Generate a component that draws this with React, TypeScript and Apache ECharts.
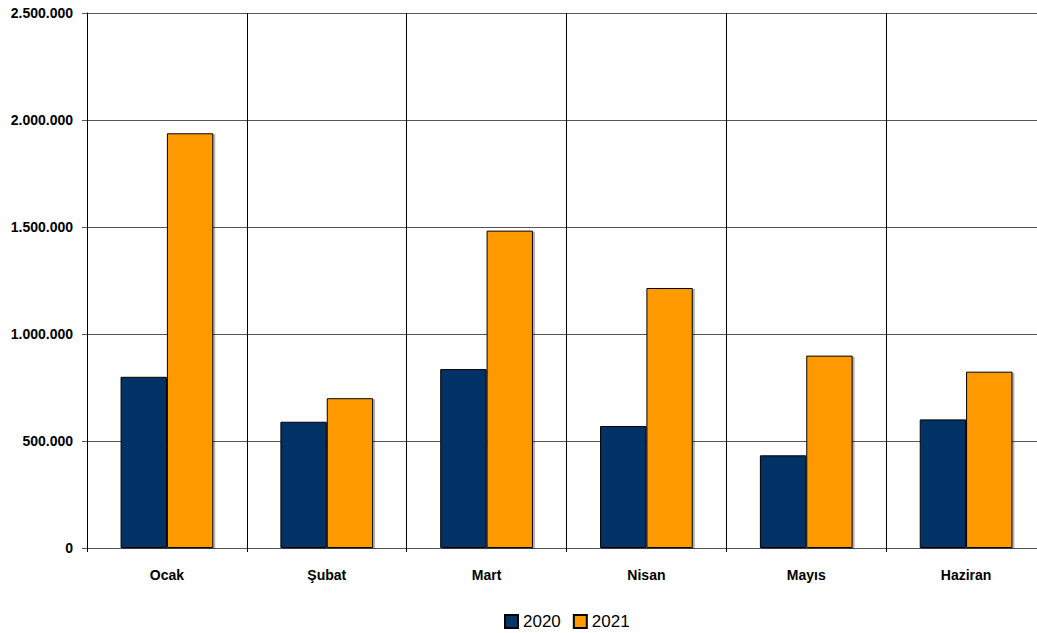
import React, { useEffect, useRef } from "react";
import * as echarts from "echarts";

const categories = ["Ocak", "Şubat", "Mart", "Nisan", "Mayıs", "Haziran"];
const seriesNames = ["2020", "2021"];
const values2020 = [800000, 590000, 836000, 570000, 433000, 601000];
const values2021 = [1938000, 700000, 1483000, 1215000, 899000, 824000];
const seriesColors = ["#003366", "#FF9900"];

const fmt = (v: number) => {
  if (v === 0) return "0";
  return String(Math.round(v)).replace(/\B(?=(\d{3})+(?!\d))/g, ".");
};

export default function App() {
  const ref = useRef<HTMLDivElement>(null);
  useEffect(() => {
    document.body.style.margin = "0";
    if (!ref.current) return;
    const chart = echarts.init(ref.current, null, { renderer: "svg" });
    const font = "'Liberation Sans', Arial, sans-serif";
    const data = [values2020, values2021];
    chart.setOption({
      animation: false,
      backgroundColor: "#ffffff",
      textStyle: { fontFamily: font },
      grid: { left: 87, top: 13, width: 959, height: 535, containLabel: false },
      legend: {
        left: 499,
        top: 608,
        itemWidth: 13,
        itemHeight: 13,
        itemGap: 12,
        icon: "rect",
        textStyle: { fontFamily: font, fontSize: 17, color: "#000" },
        data: seriesNames,
      },
      xAxis: {
        type: "category",
        data: categories,
        boundaryGap: true,
        axisLine: { show: true, lineStyle: { color: "#555", width: 1 } },
        axisTick: { show: true, length: 4, inside: false, alignWithLabel: false, lineStyle: { color: "#000" } },
        axisLabel: { fontFamily: font, fontSize: 14, fontWeight: "bold", color: "#000", margin: 20 },
        splitLine: { show: true, interval: 0, lineStyle: { color: "#000", width: 1 } },
      },
      yAxis: {
        type: "value",
        min: 0,
        max: 2500000,
        interval: 500000,
        axisLine: { show: true, lineStyle: { color: "#000", width: 1 } },
        axisTick: { show: true, length: 5, lineStyle: { color: "#555" } },
        axisLabel: {
          fontFamily: font,
          fontSize: 14,
          fontWeight: "bold",
          color: "#000",
          margin: 14,
          formatter: (v: number) => fmt(v),
        },
        splitLine: { show: true, lineStyle: { color: "#555", width: 1 } },
      },
      series: seriesNames.map((name, i) => ({
        name,
        type: "bar",
        data: data[i],
        barGap: "0%",
        barCategoryGap: "42%",
        itemStyle: {
          color: seriesColors[i],
          borderColor: "#000",
          borderWidth: 1,
          shadowColor: "rgba(0,0,0,0.3)",
          shadowOffsetX: 2,
          shadowOffsetY: 1,
          shadowBlur: 0,
        },
      })),
    });
    return () => chart.dispose();
  }, []);
  return (
    <div style={{ width: 1037, height: 633, overflow: "hidden", position: "relative" }}>
      <div ref={ref} style={{ width: 1050, height: 633 }} />
    </div>
  );
}
